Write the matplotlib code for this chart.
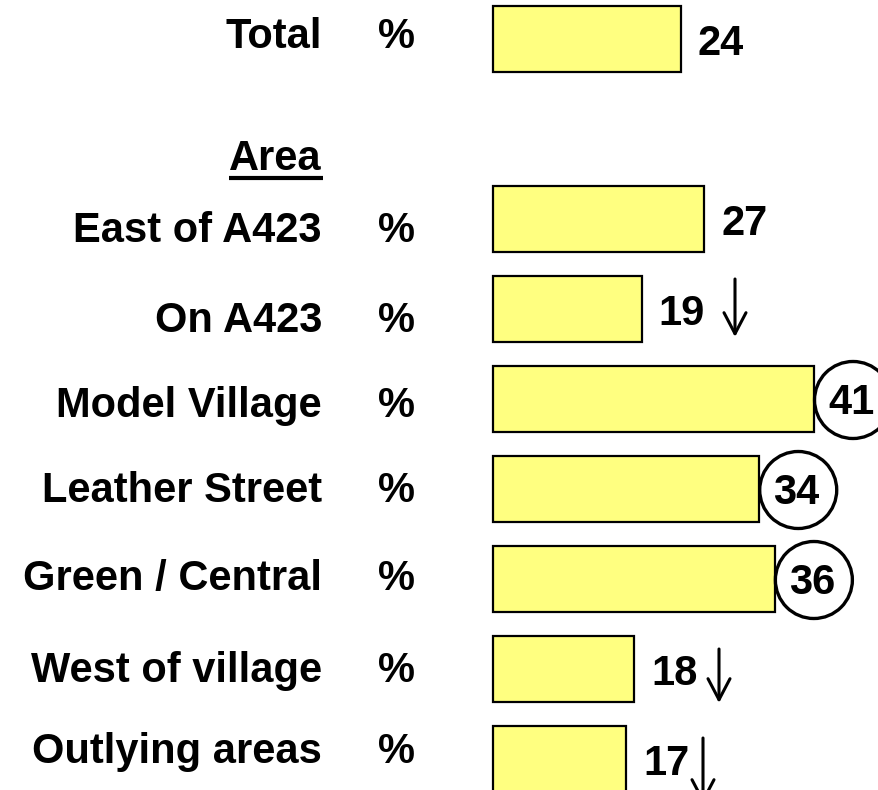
import matplotlib.pyplot as plt
from matplotlib.patches import Ellipse

plt.rcParams['font.family'] = ['Liberation Sans', 'DejaVu Sans']

# data
labels = ['Total', 'East of A423', 'On A423', 'Model Village',
          'Leather Street', 'Green / Central', 'West of village', 'Outlying areas']
values = [24, 27, 19, 41, 34, 36, 18, 17]
rows = [0, 2, 3, 4, 5, 6, 7, 8]          # row 1 is the "Area" header
marks = ['', '', 'down', 'circle', 'circle', 'circle', 'down', 'down']

# layout (pixels): baselines of the row labels, they don't sit exactly on the bars
label_base_px = [48, 242, 332, 417, 502, 590, 682, 763]

fig = plt.figure(figsize=(8.79, 7.9), dpi=100)
ax = fig.add_axes([0, 0, 1, 1])

# 0 -> 493 px, 1 unit = 7.83 px ; rows 90 px apart, row 0 at y=39 px
ux = 7.83
uy = 90.0
ax.set_xlim(-493 / ux, (879 - 493) / ux)
ax.set_ylim((790 - 39) / uy, -39 / uy)
ax.axis('off')


def py(p):
    return (p - 39) / uy


ax.barh(rows, values, height=0.73, color='#FFFF80', edgecolor='black', linewidth=1.6)

fs = 30
for lab, b in zip(labels, label_base_px):
    ax.text(-21.84, py(b), lab, ha='right', va='baseline', fontsize=fs, fontweight='bold')
    ax.text(-12.3, py(b), '%', ha='center', va='baseline', fontsize=fs, fontweight='bold')

# header
ax.text(-21.84, py(170), 'Area', ha='right', va='baseline', fontsize=fs, fontweight='bold')
ax.plot([(229 - 493) / ux, (323 - 493) / ux], [py(178), py(178)], color='black', lw=3,
        solid_capstyle='butt')

for v, r, m in zip(values, rows, marks):
    if m == 'circle':
        cx = v + 39 / ux
        ax.add_patch(Ellipse((cx, r + 1 / uy), 77 / ux, 77 / uy, fill=False, ec='black',
                             lw=2.4, clip_on=False))
        ax.text(cx - 2 / ux, r + 15 / uy, str(v), ha='center', va='baseline', fontsize=fs,
                fontweight='bold')
    else:
        ax.text(v + 17 / ux, r + 16 / uy, str(v), ha='left', va='baseline', fontsize=fs,
                fontweight='bold')

# down arrows next to the lower scores
arrows = {3: (735, -30, 28), 7: (719, -20, 34), 8: (703, -21, 45)}
for r, (px, top, bot) in arrows.items():
    x = (px - 493) / ux
    ax.annotate('', xy=(x, r + bot / uy), xytext=(x, r + top / uy),
                annotation_clip=False,
                arrowprops=dict(arrowstyle='->,head_length=0.42,head_width=0.22', lw=2.2,
                                color='black', mutation_scale=36, shrinkA=0, shrinkB=0))

fig.savefig('out.png', dpi=100)
